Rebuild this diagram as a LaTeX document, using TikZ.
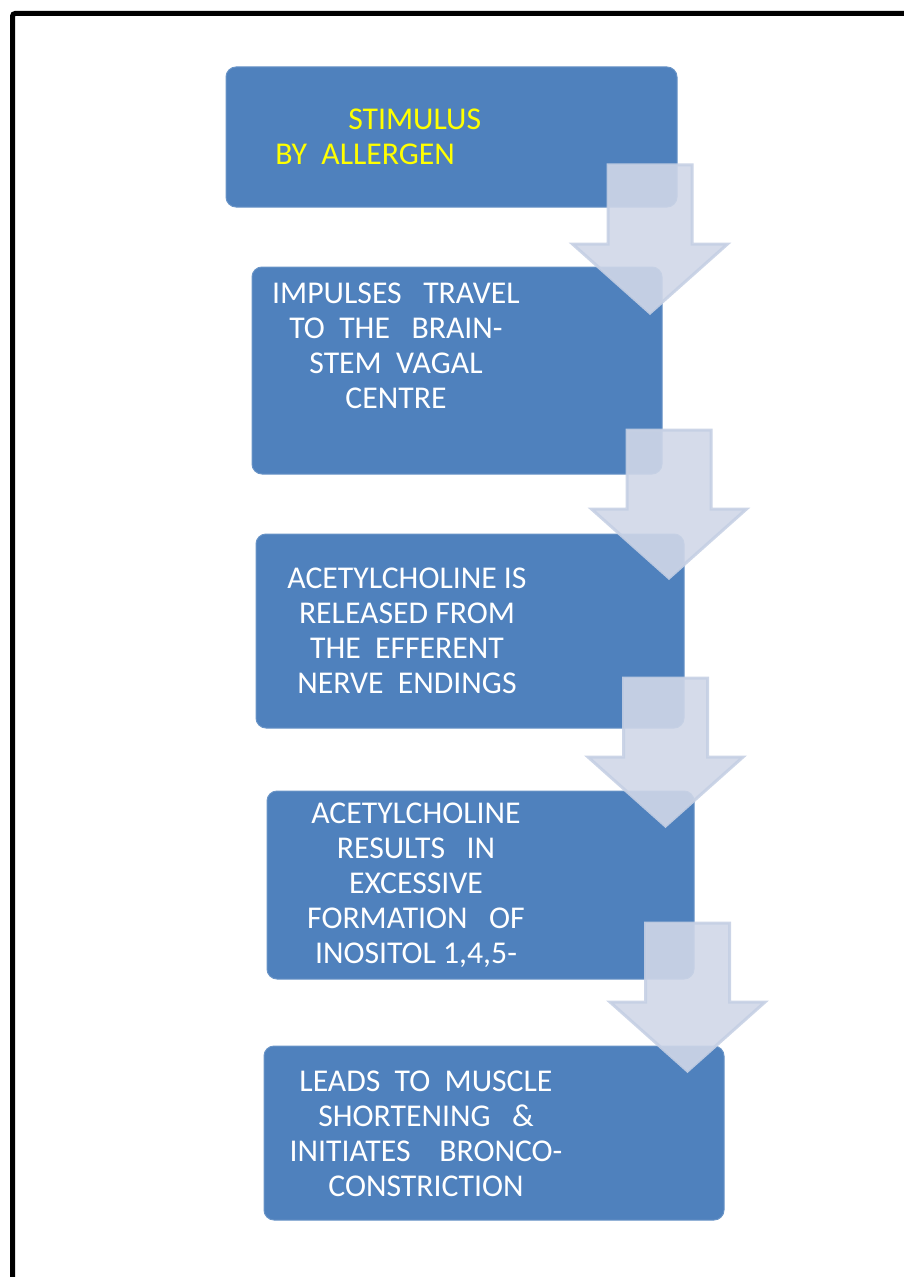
\documentclass[tikz,border=0pt]{standalone}
\usepackage{fontspec}
\setmainfont{Carlito}
\usetikzlibrary{fit}

\definecolor{boxblue}{RGB}{79,129,189}
\definecolor{arrowfill}{RGB}{208,215,232}
\definecolor{arrowedge}{RGB}{198,208,228}
\definecolor{stimyellow}{RGB}{255,255,0}

\tikzset{
  stepbox/.style={fill=boxblue, draw=boxblue!85!white, line width=0.75, rounded corners=7.5pt, inner sep=0pt},
  steptext/.style={text=white, font=\fontsize{23.8}{26.25}\selectfont, align=center, inner sep=0pt, anchor=base},
  flowarrow/.style={fill=arrowfill, fill opacity=0.9, draw=arrowedge, draw opacity=0.9, line width=2.25},
}

% block arrow: centre x, top y
\newcommand{\flowdown}[2]{%
  \draw[flowarrow] (#1-42,#2) -- (#1+42,#2) -- (#1+42,#2+79) -- (#1+77.5,#2+79)
    -- (#1,#2+148) -- (#1-77.5,#2+79) -- (#1-42,#2+79) -- cycle;
}

\begin{document}
\begin{tikzpicture}[x=0.75pt,y=0.75pt,yscale=-1,xscale=1]
\useasboundingbox (0,0) rectangle (903,1277);

%Shape: Frame
\draw [line width=3.75, rounded corners=2pt] (12.5,1300) -- (12.5,13.5) -- (930,13.5);

%Shape: Boxes
\node [stepbox, fit={(226,67) (677,207)}] (stim) {};
\node [stepbox, fit={(252,267) (662,474)}] (impulse) {};
\node [stepbox, fit={(256,534) (684,728)}] (release) {};
\node [stepbox, fit={(267,791) (694,979)}] (inositol) {};
\node [stepbox, fit={(264,1046) (724,1220)}] (constrict) {};

% Text Node
\node [steptext, text=stimyellow, align=left, anchor=base west] (stimtext) at (275,165)
  {\hspace{54.75pt}STIMULUS\\BY~~ALLERGEN};
% Text Node
\node [steptext] (impulsetext) at (396,408)
  {IMPULSES~~~TRAVEL\\TO~~THE~~~BRAIN-\\STEM~~VAGAL\\CENTRE};
% Text Node
\node [steptext] (releasetext) at (407,693)
  {ACETYLCHOLINE IS\\RELEASED FROM\\THE~~EFFERENT\\NERVE~~ENDINGS};
% Text Node
\begin{scope}
\clip [rounded corners=7.5pt] (inositol.north west) rectangle (inositol.south east);
\node [steptext] (inositoltext) at (416,963)
  {ACETYLCHOLINE\\RESULTS~~~IN\\EXCESSIVE\\FORMATION~~~OF\\INOSITOL 1,4,5-};
\end{scope}
% Text Node
\node [steptext] (constricttext) at (426,1196)
  {LEADS~~TO~~MUSCLE\\SHORTENING~~~\&\\INITIATES~~~~BRONCO-\\CONSTRICTION};

%Shape: Down Arrows
\flowdown{650}{165}
\flowdown{669}{430}
\flowdown{665.5}{678}
\flowdown{687.5}{923}

\end{tikzpicture}
\end{document}
